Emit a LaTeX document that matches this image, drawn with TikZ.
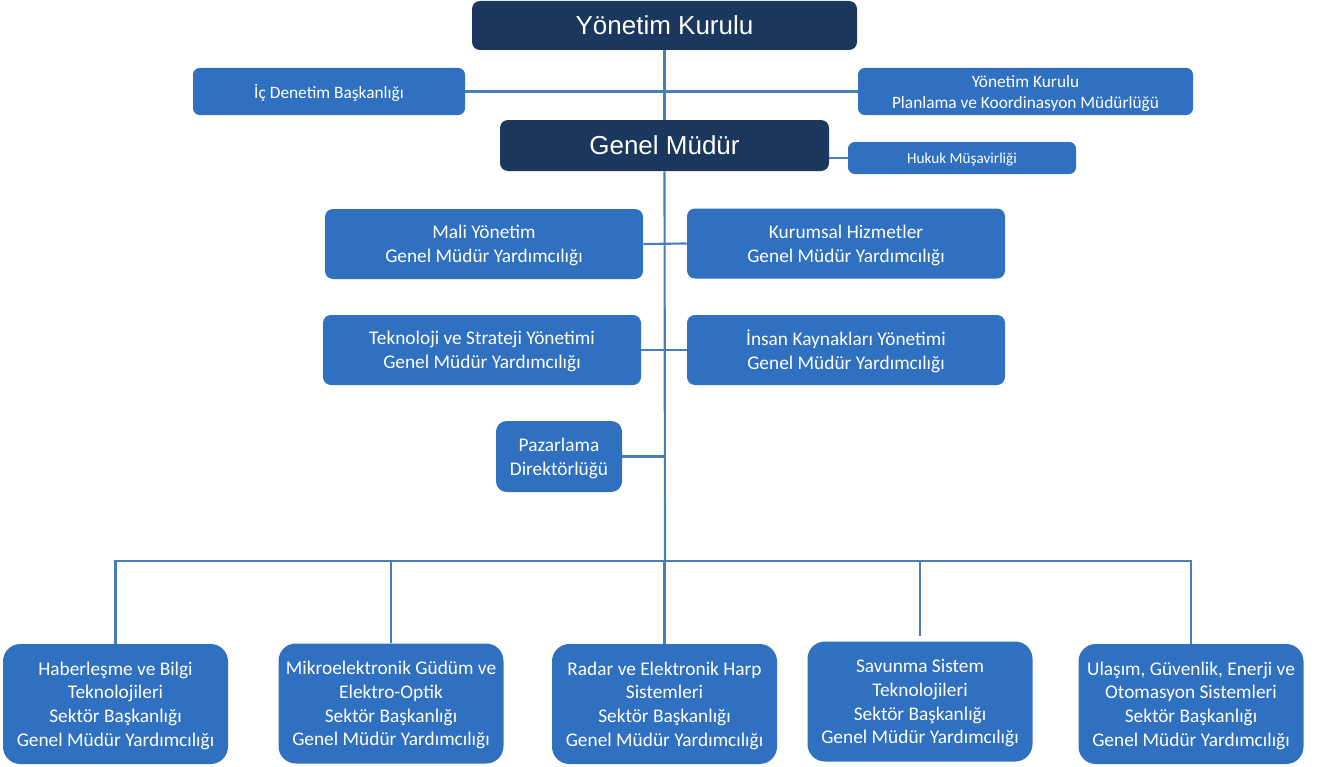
\documentclass[tikz,border=0pt]{standalone}
\usepackage{fontspec}
\setmainfont{Carlito}
\newfontfamily\arialf{Liberation Sans}
\definecolor{navy}{HTML}{1B375E}
\definecolor{boxblue}{HTML}{2F70C1}
\definecolor{linkblue}{HTML}{4A7EBB}
\begin{document}
\begin{tikzpicture}[x=0.75pt,y=-0.75pt,
  base/.style={rectangle,inner sep=0pt,align=center,text=white},
  topbox/.style={base,fill=navy,rounded corners=6pt,font=\arialf\fontsize{19.5}{23}\selectfont},
  bluebox/.style={base,fill=boxblue,rounded corners=6pt,text depth=-1.5pt,font=\fontsize{14.5}{18}\selectfont},
  smallbox/.style={base,fill=boxblue,rounded corners=5pt,text depth=-0.6pt,font=\fontsize{13}{15.75}\selectfont},
  sectorbox/.style={base,fill=boxblue,rounded corners=13pt,minimum width=168.75pt,minimum height=90pt,text depth=-1.5pt,font=\fontsize{14.5}{17.8}\selectfont},
  link/.style={draw=linkblue,line width=1.6pt}]
\useasboundingbox (0,0) rectangle (1317,767);
\coordinate (bus) at (665,561);
% boxes
\node[topbox,minimum width=288.75pt,minimum height=36.75pt] (yk) at (664.5,25.5) {Yönetim Kurulu};
\node[smallbox,minimum width=204pt,minimum height=35.25pt] (ic) at (329,91.5) {İç Denetim Başkanlığı};
\node[smallbox,text depth=-1.5pt,minimum width=251.25pt,minimum height=35.25pt] (ykp) at (1025.5,91.5) {Yönetim Kurulu\\Planlama ve Koordinasyon Müdürlüğü};
\node[topbox,minimum width=246.75pt,minimum height=38.25pt] (gm) at (664.5,145.5) {Genel Müdür};
\node[smallbox,font=\fontsize{11.4}{13.7}\selectfont,minimum width=171pt,minimum height=24pt] (hk) at (962,158) {Hukuk Müşavirliği};
\node[bluebox,minimum width=238.5pt,minimum height=52.5pt] (mali) at (484,244) {Mali Yönetim\\Genel Müdür Yardımcılığı};
\node[bluebox,minimum width=238.5pt,minimum height=52.5pt] (kur) at (846,243.5) {Kurumsal Hizmetler\\Genel Müdür Yardımcılığı};
\node[bluebox,minimum width=238.5pt,minimum height=52.5pt] (tek) at (482,350) {Teknoloji ve Strateji Yönetimi\\Genel Müdür Yardımcılığı};
\node[bluebox,minimum width=238.5pt,minimum height=52.5pt] (ins) at (846,350) {İnsan Kaynakları Yönetimi\\Genel Müdür Yardımcılığı};
\node[bluebox,rounded corners=8pt,minimum width=94.5pt,minimum height=53.25pt] (paz) at (559,456.5) {Pazarlama\\Direktörlüğü};
\node[sectorbox] (b1) at (115.5,704) {Haberleşme ve Bilgi\\Teknolojileri\\Sektör Başkanlığı\\Genel Müdür Yardımcılığı};
\node[sectorbox] (b2) at (391,703.5) {Mikroelektronik Güdüm ve\\Elektro-Optik\\Sektör Başkanlığı\\Genel Müdür Yardımcılığı};
\node[sectorbox] (b3) at (664.5,704) {Radar ve Elektronik Harp\\Sistemleri\\Sektör Başkanlığı\\Genel Müdür Yardımcılığı};
\node[sectorbox] (b4) at (920,701.5) {Savunma Sistem\\Teknolojileri\\Sektör Başkanlığı\\Genel Müdür Yardımcılığı};
\node[sectorbox] (b5) at (1191,704) {Ulaşım, Güvenlik, Enerji ve\\Otomasyon Sistemleri\\Sektör Başkanlığı\\Genel Müdür Yardımcılığı};
% connectors
\draw[link] (yk.south) -- (gm.north);
\draw[link] (ic.east) -- (ykp.west);
\draw[link] (gm.south) -- (bus);
\draw[link] (hk.west) -- (gm.east |- hk.west);
\draw[link] (mali.east) -- (kur.west);
\draw[link] (tek.east) -- (ins.west);
\draw[link] (paz.east) -- (paz.east -| bus);
\draw[link] (b1.north) |- (bus) -| (b5.north);
\draw[link] (b2.north) -- (b2.north |- bus);
\draw[link] (b3.north) -- (b3.north |- bus);
\draw[link] (b4.north) ++(0,-5) -- (b4.north |- bus);
\end{tikzpicture}
\end{document}
